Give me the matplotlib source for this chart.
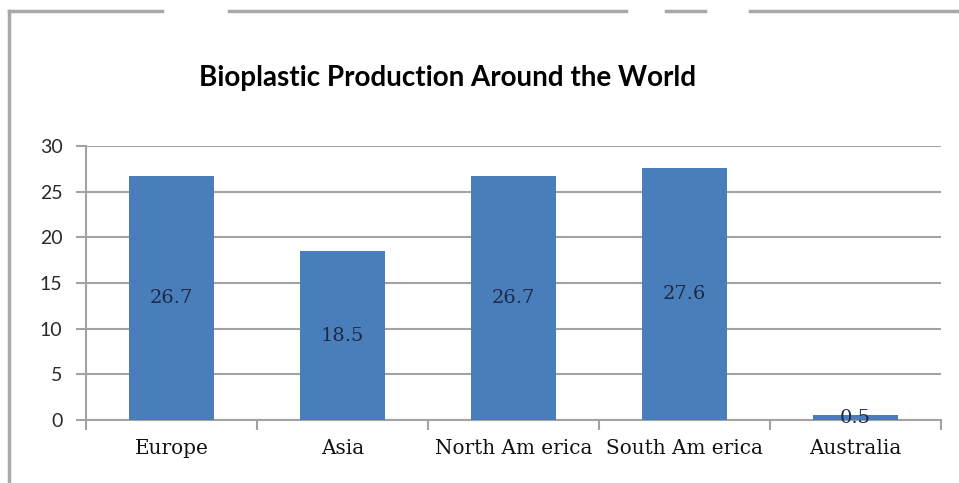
import matplotlib.pyplot as plt
from matplotlib.lines import Line2D

regions = ["Europe", "Asia", "North Am erica", "South Am erica", "Australia"]
production = [26.7, 18.5, 26.7, 27.6, 0.5]
value_labels = ["26.7", "18.5", "26.7", "27.6", "0.5"]
y_ticks = [0, 5, 10, 15, 20, 25, 30]

bar_color = "#4a7ebb"
grid_color = "#a3a3a3"

fig = plt.figure(figsize=(9.59, 4.83), dpi=100)
ax = fig.add_axes([86 / 959, 1 - 420 / 483, 855 / 959, 274 / 483])

x = list(range(len(regions)))
ax.bar(x, production, width=0.5, color=bar_color, zorder=3)

for xi, val, lab in zip(x, production, value_labels):
    ax.text(xi, val / 2, lab, ha="center", va="center", color="#1b2a47",
            fontsize=14, family="DejaVu Serif", zorder=4)

ax.set_xlim(-0.5, len(regions) - 0.5)
ax.set_ylim(0, 30)
ax.set_yticks(y_ticks)
ax.set_yticklabels([str(t) for t in y_ticks], family=["Lato", "DejaVu Sans"],
                   fontsize=14, color="#2a2a2a")
ax.set_xticks([i - 0.5 for i in range(len(regions) + 1)])
ax.set_xticklabels([])
ax.set_xticks(x, minor=True)
ax.set_xticklabels(regions, minor=True, family="DejaVu Serif", fontsize=14.4,
                   color="#111111")
ax.tick_params(axis="x", which="minor", length=0, pad=14)
ax.tick_params(axis="x", which="major", length=7, width=1.5, color=grid_color)
ax.tick_params(axis="y", length=7, width=1.5, color=grid_color, pad=10)

ax.yaxis.grid(True, color=grid_color, linewidth=1.5, zorder=0)
ax.set_axisbelow(True)
for side in ["top", "right"]:
    ax.spines[side].set_visible(False)
for side in ["left", "bottom"]:
    ax.spines[side].set_color(grid_color)
    ax.spines[side].set_linewidth(1.5)

fig.text(448 / 959, 1 - 78 / 483, "Bioplastic Production Around the World",
         ha="center", va="center", fontsize=20, fontweight="bold",
         family=["Lato", "DejaVu Sans"])

# frame remnants of the screenshot
border = "#a8a8a8"
fig.add_artist(Line2D([9 / 959, 9 / 959], [0, 1 - 11 / 483],
                      color=border, linewidth=2.5))
for x0, x1 in [(9, 162), (229, 626), (666, 705), (750, 959)]:
    fig.add_artist(Line2D([x0 / 959, x1 / 959], [1 - 11 / 483, 1 - 11 / 483],
                          color=border, linewidth=2.5))

fig.savefig("out.png", dpi=100)
